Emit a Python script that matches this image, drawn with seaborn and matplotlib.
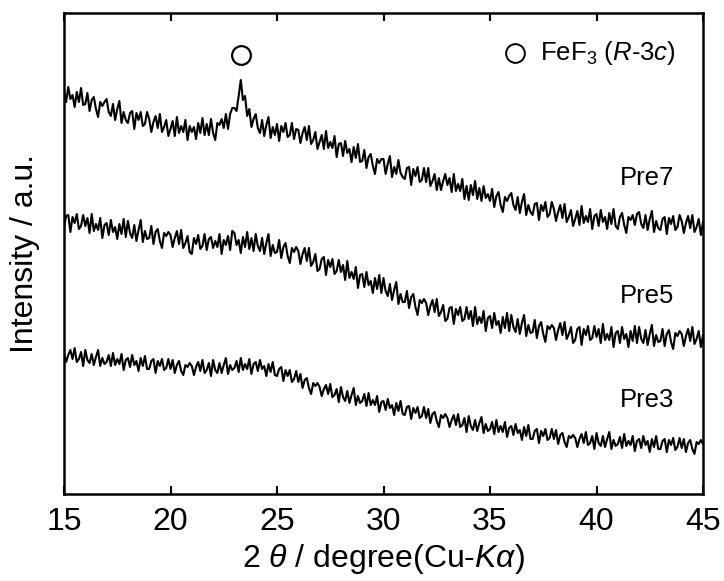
import numpy as np
import pandas as pd
import matplotlib
matplotlib.use("Agg")
import matplotlib.pyplot as plt
import seaborn as sns

# ---------------- data (arbitrary intensity units) -------------
two_theta = np.round(np.arange(15.0, 45.0001, 0.1), 1)

pre7 = [
    404, 392, 407, 395, 399, 387, 402, 392, 406, 389,
    390, 401, 383, 394, 397, 385, 377, 392, 388, 392,
    395, 382, 378, 390, 374, 385, 393, 371, 382, 374,
    371, 381, 383, 365, 381, 374, 382, 368, 370, 382,
    375, 362, 372, 378, 366, 380, 362, 367, 374, 358,
    365, 373, 358, 377, 361, 368, 362, 374, 354, 368,
    362, 367, 355, 371, 361, 376, 359, 370, 359, 375,
    361, 354, 371, 369, 375, 366, 380, 365, 380, 386,
    386, 383, 398, 414, 394, 398, 378, 385, 367, 375,
    380, 366, 361, 374, 358, 369, 377, 356, 367, 359,
    370, 353, 368, 362, 371, 357, 359, 371, 355, 365,
    364, 351, 361, 367, 354, 368, 350, 354, 362, 345,
    352, 359, 345, 363, 346, 352, 346, 358, 337, 350,
    351, 338, 353, 341, 345, 332, 347, 336, 350, 332,
    333, 344, 326, 337, 340, 328, 320, 335, 331, 335,
    335, 320, 330, 338, 317, 327, 320, 334, 321, 317,
    315, 326, 327, 309, 325, 318, 327, 312, 314, 326,
    312, 326, 308, 313, 320, 304, 316, 304, 313, 320,
    309, 316, 302, 320, 303, 310, 303, 315, 295, 308,
    294, 309, 299, 313, 295, 306, 293, 308, 296, 300,
    293, 305, 287, 298, 302, 289, 282, 297, 293, 298,
    301, 289, 284, 297, 281, 292, 300, 279, 289, 282,
    279, 290, 291, 274, 289, 283, 292, 277, 280, 292,
    285, 273, 282, 289, 276, 290, 272, 277, 284, 268,
    275, 283, 269, 288, 271, 278, 272, 285, 265, 278,
    280, 268, 284, 272, 277, 265, 281, 270, 285, 268,
    265, 277, 281, 269, 261, 277, 274, 279, 269, 280,
    282, 270, 266, 279, 264, 275, 283, 262, 273, 266,
    264, 275, 277, 260, 276, 270, 278, 264, 267, 279,
    273, 261, 271, 278, 266, 279, 262, 267, 275, 259,
    272,
]

pre5 = [
    267, 278, 279, 262, 277, 271, 280, 265, 268, 279,
    268, 276, 261, 280, 263, 270, 264, 276, 256, 269,
    271, 259, 274, 262, 267, 255, 270, 260, 275, 257,
    273, 261, 256, 269, 253, 264, 274, 252, 263, 255,
    256, 268, 250, 262, 265, 253, 246, 261, 258, 262,
    259, 247, 256, 263, 250, 264, 246, 251, 258, 242,
    240, 256, 250, 259, 245, 248, 260, 244, 255, 257,
    246, 253, 247, 260, 240, 254, 249, 258, 244, 263,
    261, 249, 254, 241, 257, 247, 262, 245, 256, 243,
    260, 248, 243, 256, 240, 251, 260, 238, 249, 241,
    242, 254, 236, 247, 251, 238, 231, 246, 242, 247,
    243, 230, 240, 246, 233, 246, 228, 232, 240, 223,
    225, 235, 237, 219, 234, 227, 235, 220, 223, 234,
    222, 229, 214, 233, 216, 222, 215, 227, 206, 219,
    220, 207, 222, 209, 213, 201, 216, 205, 219, 201,
    216, 203, 198, 210, 194, 204, 212, 190, 200, 192,
    192, 203, 186, 197, 200, 187, 179, 194, 191, 195,
    191, 179, 188, 194, 182, 195, 178, 182, 189, 173,
    175, 186, 187, 170, 185, 179, 187, 173, 175, 187,
    175, 183, 168, 187, 170, 177, 171, 183, 163, 176,
    178, 166, 181, 169, 173, 161, 177, 166, 181, 163,
    179, 167, 162, 175, 160, 171, 179, 158, 169, 161,
    162, 174, 156, 168, 172, 160, 152, 168, 165, 169,
    166, 154, 164, 171, 159, 172, 155, 160, 167, 151,
    154, 165, 167, 149, 165, 159, 168, 154, 156, 168,
    157, 165, 151, 170, 154, 160, 154, 167, 147, 161,
    163, 151, 167, 155, 160, 147, 163, 153, 168, 151,
    167, 155, 151, 164, 149, 160, 169, 148, 159, 152,
    153, 165, 148, 160, 164, 152, 145, 161, 158, 163,
    160, 148, 158, 165, 153, 167, 150, 155, 163, 147,
    159,
]

pre3 = [
    141, 132, 139, 144, 135, 146, 132, 135, 142, 128,
    144, 134, 131, 140, 129, 137, 144, 128, 136, 130,
    132, 139, 128, 141, 129, 135, 130, 140, 124, 134,
    136, 127, 139, 129, 133, 123, 136, 128, 138, 125,
    125, 133, 135, 121, 133, 128, 135, 124, 126, 135,
    125, 134, 121, 129, 133, 123, 119, 129, 127, 131,
    128, 119, 127, 132, 123, 134, 121, 124, 131, 118,
    134, 124, 121, 131, 121, 129, 136, 120, 129, 124,
    126, 133, 122, 136, 124, 130, 125, 135, 120, 130,
    132, 123, 134, 125, 128, 118, 130, 122, 132, 119,
    118, 125, 127, 113, 124, 118, 124, 112, 115, 123,
    112, 120, 106, 114, 116, 106, 100, 111, 108, 111,
    107, 98, 105, 109, 100, 110, 97, 99, 105, 92,
    107, 97, 93, 103, 91, 99, 106, 89, 98, 91,
    93, 100, 88, 101, 89, 94, 89, 98, 82, 92,
    93, 84, 95, 86, 89, 79, 91, 83, 93, 80,
    79, 87, 88, 75, 86, 81, 87, 76, 78, 87,
    76, 85, 71, 80, 82, 73, 67, 79, 76, 80,
    76, 67, 74, 79, 69, 80, 67, 69, 76, 62,
    78, 68, 64, 74, 63, 71, 77, 61, 70, 63,
    65, 72, 60, 74, 62, 68, 62, 72, 57, 66,
    68, 59, 70, 61, 64, 54, 67, 58, 69, 55,
    55, 63, 65, 51, 63, 58, 65, 54, 56, 65,
    55, 64, 50, 59, 61, 52, 47, 58, 56, 59,
    56, 47, 55, 60, 51, 62, 49, 51, 58, 45,
    61, 51, 48, 58, 47, 55, 62, 45, 54, 48,
    50, 57, 46, 60, 48, 53, 49, 58, 43, 53,
    55, 46, 58, 49, 53, 42, 55, 47, 58, 45,
    45, 53, 55, 42, 54, 49, 56, 44, 47, 56,
    46, 55, 42, 51, 54, 45, 40, 52, 50, 54,
    50,
]

series_names = ["Pre7", "Pre5", "Pre3"]
series_values = [pre7, pre5, pre3]
label_x = 41.1
label_y = [316, 198, 94]

peak_positions = [23.3]      # FeF3 (R-3c) reflection
peak_marker_y = [439]

x_ticks = [15, 20, 25, 30, 35, 40, 45]

# ---------------- styling ----------------
sns.set_theme(style="white")
plt.rcParams["font.family"] = ["Liberation Sans", "DejaVu Sans"]
plt.rcParams["mathtext.fontset"] = "custom"
plt.rcParams["mathtext.rm"] = "Liberation Sans"
plt.rcParams["mathtext.it"] = "Liberation Sans:italic"

fig = plt.figure(figsize=(7.24, 5.81), dpi=100)
ax = fig.add_axes([64 / 724, 87 / 581, 639 / 724, 481 / 581])

frames = []
for name, vals in zip(series_names, series_values):
    assert len(vals) == len(two_theta)
    frames.append(pd.DataFrame({"two_theta": two_theta, "intensity": vals, "sample": name}))
df = pd.concat(frames, ignore_index=True)

for name in series_names:
    sns.lineplot(data=df[df["sample"] == name], x="two_theta", y="intensity",
                 color="black", linewidth=1.5, estimator=None, sort=False, ax=ax)

for name, yy in zip(series_names, label_y):
    ax.text(label_x, yy, name, fontsize=18.5, ha="left", va="center", color="black")

ax.plot(peak_positions, peak_marker_y, linestyle="none", marker="o", markersize=13.5,
        markerfacecolor="white", markeredgecolor="black", markeredgewidth=1.6)

# legend-like annotation
ax.plot([0.706], [0.917], transform=ax.transAxes, linestyle="none", marker="o",
        markersize=13.5, markerfacecolor="white", markeredgecolor="black",
        markeredgewidth=1.4, clip_on=False)
ax.text(0.745, 0.917, r"FeF$_3$ ($\mathit{R}$-3$\mathit{c}$)", transform=ax.transAxes,
        fontsize=18.5, ha="left", va="center", color="black")

ax.set_xlim(15, 45)
ax.set_ylim(0, 481)
ax.set_xticks(x_ticks)
ax.set_xticklabels([str(t) for t in x_ticks])
ax.set_yticks([])
ax.tick_params(axis="x", direction="in", length=5.5, width=1.5, top=True, bottom=True,
               labelsize=23, pad=9, colors="black")
for sp in ax.spines.values():
    sp.set_visible(True)
    sp.set_linewidth(1.8)
    sp.set_color("black")

ax.set_xlabel(r"2 $\mathit{\theta}$ / degree(Cu-$\mathit{K\alpha}$)", fontsize=23, labelpad=4,
              color="black")
ax.set_ylabel("Intensity / a.u.", fontsize=23, labelpad=17, color="black")

fig.savefig("out.png", dpi=100, facecolor="white")
